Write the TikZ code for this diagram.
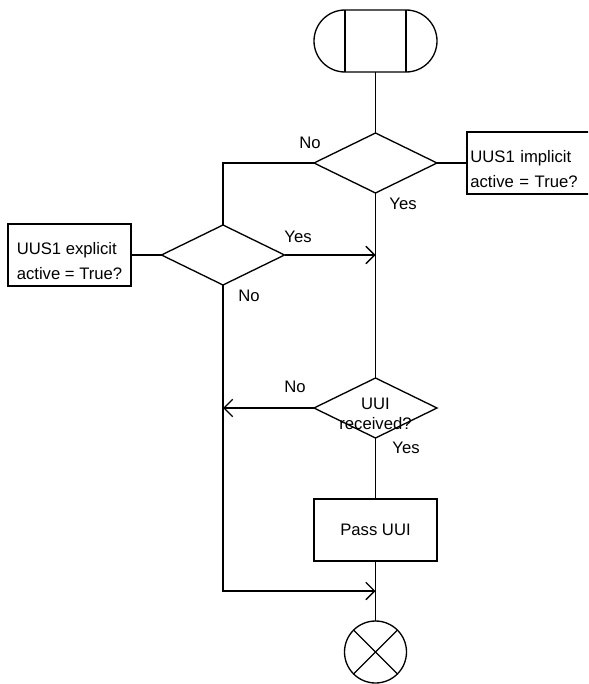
\documentclass[tikz,border=0pt]{standalone}
\usepackage{fontspec}
\setmainfont{Liberation Sans}
\usetikzlibrary{positioning, arrows.meta, shapes.geometric, shapes.misc, calc}
\newcommand{\boxstrut}{\rule{0pt}{18.5pt}}

\begin{document}
\begin{tikzpicture}[
  x=0.75pt, y=-0.75pt,
  line width=1pt,
  every node/.style={font=\fontsize{12.5}{18.5}\selectfont, align=center},
  terminal/.style={
    draw,
    rounded rectangle,
    minimum width=92.25pt,
    minimum height=46.5pt,
    inner sep=0pt,
    outer sep=0pt
  },
  decision/.style={
    draw,
    diamond,
    minimum width=92.25pt,
    minimum height=45pt,
    inner sep=0pt,
    outer sep=0pt
  },
  task/.style={
    draw,
    rectangle,
    align=left,
    minimum width=92.25pt,
    minimum height=46.5pt,
    inner sep=2pt,
    outer sep=0pt
  },
  stopnode/.style={
    draw,
    circle,
    minimum size=46.5pt,
    inner sep=0pt,
    outer sep=0pt
  },
  answer/.style={inner sep=0pt},
  flow/.style={draw, -{Straight Barb[length=6.5pt, width=13pt]}},
  line/.style={draw}
]

\useasboundingbox (0,0) rectangle (588,684);
\clip (0,0) rectangle (588,684);

\node[terminal] (start) at (375.5,41) {};
\node[decision] (dec1) at (375.5,163) {};
\node[task, anchor=west, text width=110pt, inner xsep=2.5pt] (implicit) at (467,163)
  {\boxstrut UUS1 implicit\\active = True?};
\node[decision] (dec2) at (223,255) {};
\node[task] (explicit) at (69.5,255) {\boxstrut UUS1 explicit\\active = True?};
\node[decision, label={[font=\fontsize{12.5}{15}\selectfont, align=center, yshift=-4.5pt]center:UUI\\received?}] (dec3) at (375.5,408) {};
\node[task, align=center] (pass) at (375.5,530) {Pass UUI};
\node[stopnode] (stop) at (375.5,652) {};

\node[answer] (no1)  at (310,143) {No};
\node[answer] (yes1) at (403,204) {Yes};
\node[answer] (yes2) at (298,237) {Yes};
\node[answer] (no2)  at (249,296) {No};
\node[answer] (no3)  at (295,387) {No};
\node[answer] (yes3) at (406,448) {Yes};

\coordinate (join) at ($(pass.south)!0.5!(stop.north)$);

\draw[line] ($(start.north)+(-30.5,0)$) -- ($(start.south)+(-30.5,0)$);
\draw[line] ($(start.north)+(30.5,0)$) -- ($(start.south)+(30.5,0)$);
\draw[line] (stop.north west) -- (stop.south east);
\draw[line] (stop.north east) -- (stop.south west);

\draw[line] (start.south) -- (dec1.north);
\draw[line] (dec1.east) -- (implicit.west);
\draw[line] (dec1.west) -| (dec2.north);
\draw[line] (explicit.east) -- (dec2.west);
\draw[flow] (dec2.east) -- (dec2.east -| dec1.south);
\draw[line] (dec1.south) -- (dec3.north);
\draw[flow] (dec3.west) -- (dec3.west -| dec2.south);
\draw[line] (dec3.south) -- (pass.north);
\draw[line] (pass.south) -- (stop.north);
\draw[flow] (dec2.south) |- (join);

\end{tikzpicture}
\end{document}
